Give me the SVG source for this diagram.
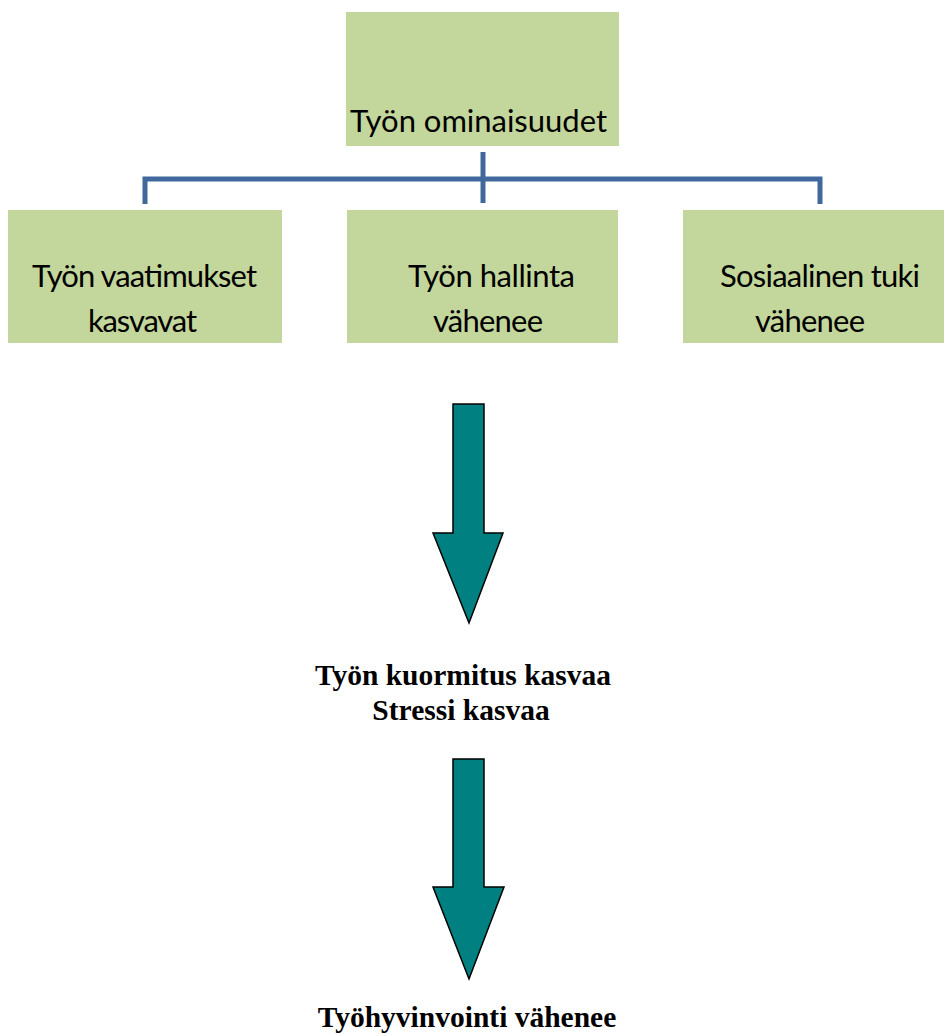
<svg xmlns="http://www.w3.org/2000/svg" width="944" height="1036" viewBox="0 0 944 1036">
<style>
.box{fill:#C3D69B}
.bt{font-family:Lato,"Open Sans",sans-serif;font-size:31px;fill:#000}
.con{fill:none;stroke:#41689C;stroke-width:5}
.arr{fill:#008080;stroke:#000;stroke-width:1.5}
.bold{font-family:"Liberation Serif","Times New Roman",serif;font-size:29.5px;font-weight:bold;fill:#000;text-anchor:middle}
</style>
<rect width="944" height="1036" fill="#fff"/>
<g id="connectors">
<path class="con" d="M483 152V203M145 204V179H820V204"/>
</g>
<g id="top">
<rect class="box" x="346" y="12" width="273" height="134"/>
<text class="bt" x="350" y="132" textLength="257">Työn ominaisuudet</text>
</g>
<g id="left">
<rect class="box" x="8" y="210" width="274" height="133"/>
<text class="bt" x="32" y="287" textLength="225">Työn vaatimukset</text>
<text class="bt" x="88" y="332" textLength="109">kasvavat</text>
</g>
<g id="middle">
<rect class="box" x="347" y="210" width="271" height="133"/>
<text class="bt" x="408" y="287" textLength="167">Työn hallinta</text>
<text class="bt" x="433" y="332" textLength="110">vähenee</text>
</g>
<g id="right">
<rect class="box" x="683" y="210" width="261" height="133"/>
<text class="bt" x="720" y="287" textLength="200">Sosiaalinen tuki</text>
<text class="bt" x="755" y="332" textLength="110">vähenee</text>
</g>
<g id="arrow1">
<polygon class="arr" points="453,404 484,404 484,533 503,533 469,623 433,533 453,533"/>
</g>
<g id="result1">
<text class="bold" x="463" y="685">Työn kuormitus kasvaa</text>
<text class="bold" x="461" y="720">Stressi kasvaa</text>
</g>
<g id="arrow2">
<polygon class="arr" points="453,759 484,759 484,887 504,887 469,979 433,887 453,887"/>
</g>
<g id="result2">
<text class="bold" x="467" y="1027">Työhyvinvointi vähenee</text>
</g>
</svg>
